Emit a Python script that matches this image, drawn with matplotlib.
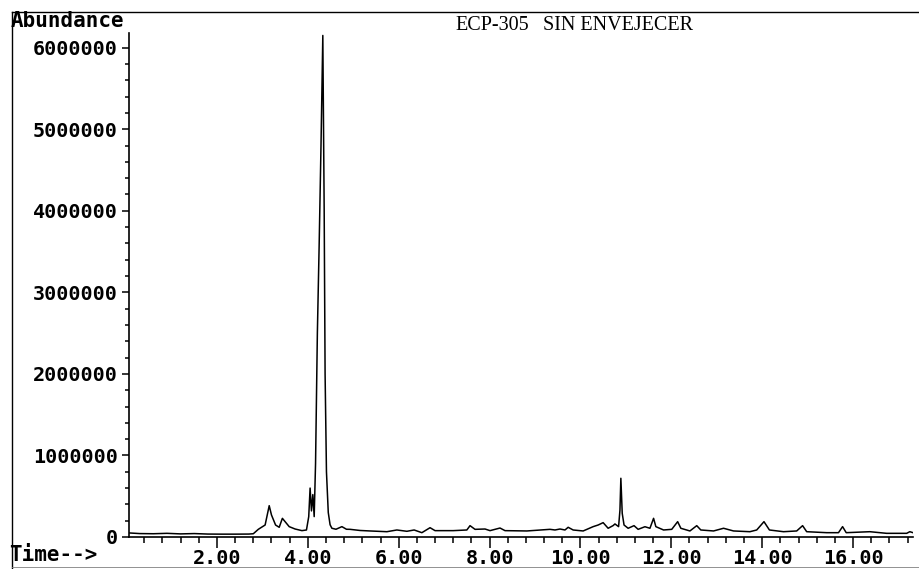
import matplotlib
matplotlib.use("Agg")
import matplotlib.pyplot as plt
from matplotlib.ticker import MultipleLocator, FormatStrFormatter
from matplotlib.lines import Line2D

# retention time (min) and abundance
time = [0.06, 0.3, 0.6, 0.9, 1.2, 1.5, 1.8, 2.1, 2.4, 2.7, 2.8,
        2.91, 2.98, 3.06, 3.15, 3.20, 3.29, 3.37, 3.44, 3.50, 3.59,
        3.72, 3.87, 3.97, 4.02, 4.05, 4.08, 4.11, 4.14, 4.17, 4.21,
        4.25, 4.29, 4.33, 4.36, 4.38, 4.41, 4.45, 4.49, 4.53, 4.62,
        4.75, 4.85, 4.93, 5.15, 5.37, 5.74, 5.96, 6.18, 6.34, 6.51,
        6.69, 6.80, 7.20, 7.50, 7.57, 7.68, 7.90, 8.01, 8.23, 8.34,
        8.82, 9.33, 9.44, 9.55, 9.66, 9.73, 9.84, 10.06, 10.28, 10.39,
        10.50, 10.61, 10.72, 10.76, 10.84, 10.87, 10.89, 10.92, 10.96, 11.05,
        11.18, 11.27, 11.42, 11.53, 11.61, 11.66, 11.83, 12.01, 12.14, 12.21,
        12.41, 12.56, 12.65, 12.93, 13.15, 13.37, 13.73, 13.88, 14.04, 14.16,
        14.47, 14.76, 14.89, 14.98, 15.42, 15.68, 15.77, 15.85, 16.37, 16.74,
        17.18, 17.25, 17.32]
abundance = [50000, 42000, 40000, 45000, 38000, 42000, 36000, 35000, 35000, 36000, 40000,
             94000, 119000, 147000, 384000, 270000, 147000, 119000, 229000, 188000, 127000,
             98000, 78000, 86000, 250000, 600000, 320000, 520000, 250000, 900000, 2500000,
             3600000, 4800000, 6150000, 4000000, 2000000, 800000, 300000, 150000, 107000, 95000,
             127000, 95000, 94000, 80000, 74000, 65000, 86000, 70000, 86000, 53000,
             114000, 78000, 78000, 86000, 139000, 94000, 98000, 78000, 110000, 78000,
             74000, 94000, 86000, 98000, 86000, 119000, 86000, 74000, 127000, 147000,
             176000, 107000, 140000, 160000, 127000, 330000, 720000, 290000, 147000, 107000,
             139000, 94000, 126000, 107000, 229000, 127000, 86000, 94000, 188000, 107000,
             74000, 139000, 86000, 74000, 107000, 74000, 65000, 86000, 188000, 86000,
             65000, 74000, 139000, 65000, 53000, 53000, 127000, 53000, 65000, 45000,
             45000, 65000, 53000]

title_left = "ECP-305"
title_right = "SIN ENVEJECER"

W, H = 919, 569
mono = "DejaVu Sans Mono"

fig = plt.figure(figsize=(W / 100, H / 100), dpi=100)
ax = fig.add_axes([129 / W, 32 / H, 784 / W, 504 / H])

ax.plot(time, abundance, color="black", lw=1.1)
ax.set_xlim(0.064, 17.32)
ax.set_ylim(0, 6.18e6)

ax.spines["top"].set_visible(False)
ax.spines["right"].set_visible(False)
ax.spines["left"].set_linewidth(1.2)
ax.spines["bottom"].set_linewidth(1.2)

ax.xaxis.set_major_locator(MultipleLocator(2))
ax.xaxis.set_minor_locator(MultipleLocator(0.4))
ax.xaxis.set_major_formatter(FormatStrFormatter("%.2f"))
ax.yaxis.set_major_locator(MultipleLocator(1000000))
ax.yaxis.set_minor_locator(MultipleLocator(200000))
ax.yaxis.set_major_formatter(FormatStrFormatter("%d"))

ax.tick_params(which="both", direction="out", width=1.1, colors="black")
ax.tick_params(axis="x", which="major", length=8, pad=1)
ax.tick_params(axis="x", which="minor", length=4)
ax.tick_params(axis="y", which="major", length=5, pad=3)
ax.tick_params(axis="y", which="minor", length=3)
for lab in ax.get_xticklabels() + ax.get_yticklabels():
    lab.set_fontfamily(mono)
    lab.set_fontweight("bold")
    lab.set_fontsize(14.5)

# axis captions in the corners, like the instrument printout
fig.text(11 / W, 1 - 21 / H, "Abundance", family=mono, weight="bold",
         fontsize=15, va="center", ha="left")
fig.text(9 / W, 1 - 555 / H, "Time-->", family=mono, weight="bold",
         fontsize=15, va="center", ha="left")

fig.text(455 / W, 1 - 26 / H, title_left, family="Liberation Serif",
         fontsize=14.5, va="center", ha="left")
fig.text(543 / W, 1 - 26 / H, title_right, family="Liberation Serif",
         fontsize=14.5, va="center", ha="left")

# page frame
fig.add_artist(Line2D([12 / W, 1], [1 - 12 / H, 1 - 12 / H],
                      transform=fig.transFigure, color="black", lw=1.0))
fig.add_artist(Line2D([12 / W, 12 / W], [0, 1 - 12 / H],
                      transform=fig.transFigure, color="black", lw=1.0))
fig.add_artist(Line2D([12 / W, 1], [2 / H, 2 / H],
                      transform=fig.transFigure, color="0.5", lw=0.6))

fig.savefig("out.png", dpi=100)
